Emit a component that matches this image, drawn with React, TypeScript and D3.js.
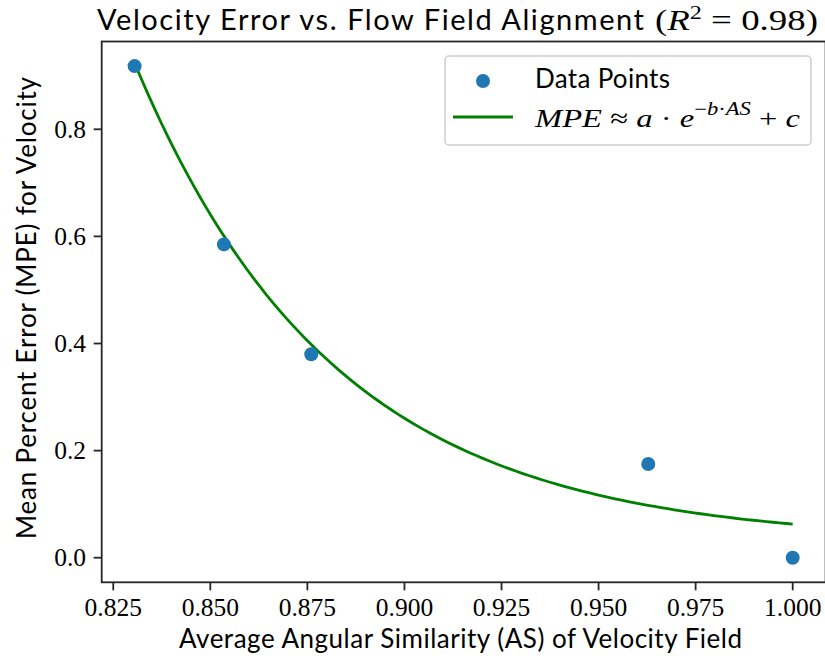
import React from "react";
import * as d3 from "d3";

// measured points (AS vs MPE)
const asValues = [0.8305, 0.8535, 0.876, 0.9628, 1.0];
const mpeValues = [0.918, 0.585, 0.38, 0.175, 0.0];

// fitted model  MPE ≈ a·exp(-b·AS) + c
const fitA = 9.65e6;
const fitB = 19.5;
const fitC = 0.03;

const xTicks = [0.825, 0.85, 0.875, 0.9, 0.925, 0.95, 0.975, 1.0];
const yTicks = [0.0, 0.2, 0.4, 0.6, 0.8];

const W = 825;
const H = 662;
const margin = { top: 41.5, right: -0.6, bottom: 79.7, left: 101.7 };

const sans = "Lato, 'Open Sans', sans-serif";
const serif = "'Liberation Serif', 'DejaVu Serif', serif";

const App = () => {
  const points = asValues.map((x, i) => ({ x, y: mpeValues[i] }));

  const [x0, x1] = d3.extent(asValues) as [number, number];
  const [y0, y1] = d3.extent(mpeValues) as [number, number];
  const padX = (x1 - x0) * 0.05;
  const padY = (y1 - y0) * 0.05;

  const x = d3.scaleLinear()
    .domain([x0 - padX, x1 + padX])
    .range([margin.left, W - margin.right]);
  const y = d3.scaleLinear()
    .domain([y0 - padY, y1 + padY])
    .range([H - margin.bottom, margin.top]);

  // fit curve sampled over the data range
  const curveX = d3.range(0, 101).map(i => x0 + (x1 - x0) * i / 100);
  const curve = curveX.map(v => ({ x: v, y: fitA * Math.exp(-fitB * v) + fitC }));
  const line = d3.line<{ x: number; y: number }>()
    .x(d => x(d.x))
    .y(d => y(d.y));

  const left = margin.left;
  const right = W - margin.right;
  const top = margin.top;
  const bottom = H - margin.bottom;
  const axisColor = "#262626";

  return (
    <svg width={W} height={H} style={{ position: "absolute", left: 0, top: 0, background: "#fff" }}>
      {/* title */}
      <text x={97} y={29.5} fontSize={29} fontFamily={sans} fill="#000" textLength={547} lengthAdjust="spacing">
        Velocity Error vs. Flow Field Alignment
      </text>
      <text x={655} y={29.5} fontSize={29} fontFamily={serif} fill="#000" textLength={163} lengthAdjust="spacingAndGlyphs">
        <tspan>(</tspan>
        <tspan fontStyle="italic">R</tspan>
        <tspan fontSize={19} dy={-11}>2</tspan>
        <tspan dy={11}> = 0.98)</tspan>
      </text>

      {/* fit line */}
      <path d={line(curve) || ""} fill="none" stroke="#008000" strokeWidth={2.8} />

      {/* points */}
      {points.map((p, i) => (
        <circle key={i} cx={x(p.x)} cy={y(p.y)} r={7} fill="#1f77b4" />
      ))}

      {/* spines */}
      <rect x={left} y={top} width={right - left} height={bottom - top} fill="none" stroke={axisColor} strokeWidth={1.8} />

      {/* x ticks */}
      {xTicks.map(t => (
        <g key={t}>
          <line x1={x(t)} x2={x(t)} y1={bottom} y2={bottom + 8} stroke={axisColor} strokeWidth={1.8} />
          <text x={x(t)} y={616} textAnchor="middle" fontSize={25.5} fontFamily={serif} fill="#000">
            {d3.format(".3f")(t)}
          </text>
        </g>
      ))}

      {/* y ticks */}
      {yTicks.map(t => (
        <g key={t}>
          <line x1={left - 8} x2={left} y1={y(t)} y2={y(t)} stroke={axisColor} strokeWidth={1.8} />
          <text x={86} y={y(t) + 8.5} textAnchor="end" fontSize={25.5} fontFamily={serif} fill="#000">
            {d3.format(".1f")(t)}
          </text>
        </g>
      ))}

      {/* axis labels */}
      <text x={460.5} y={648} textAnchor="middle" fontSize={26} fontFamily={sans} fill="#000" textLength={563} lengthAdjust="spacing">
        Average Angular Similarity (AS) of Velocity Field
      </text>
      <text transform="translate(36,308) rotate(-90)" textAnchor="middle" fontSize={26} fontFamily={sans} fill="#000" textLength={462} lengthAdjust="spacing">
        Mean Percent Error (MPE) for Velocity
      </text>

      {/* legend */}
      <g>
        <rect x={445} y={56} width={366} height={89} rx={4} fill="#fff" fillOpacity={0.8} stroke="#d0d0d0" strokeWidth={1.5} />
        <circle cx={483} cy={81} r={7} fill="#1f77b4" />
        <text x={535} y={88} fontSize={26} fontFamily={sans} fill="#000" textLength={135} lengthAdjust="spacing">Data Points</text>
        <line x1={453} x2={513} y1={117} y2={117} stroke="#008000" strokeWidth={2.8} />
        <text x={535} y={127} fontSize={26} fontFamily={serif} fill="#000" textLength={265} lengthAdjust="spacingAndGlyphs">
          <tspan fontStyle="italic">MPE</tspan>
          <tspan> ≈ </tspan>
          <tspan fontStyle="italic">a</tspan>
          <tspan> · </tspan>
          <tspan fontStyle="italic">e</tspan>
          <tspan fontSize={18} dy={-12}>−</tspan>
          <tspan fontSize={18} fontStyle="italic">b</tspan>
          <tspan fontSize={18}>·</tspan>
          <tspan fontSize={18} fontStyle="italic">AS</tspan>
          <tspan dy={12}> + </tspan>
          <tspan fontStyle="italic">c</tspan>
        </text>
      </g>
    </svg>
  );
};

export default App;
